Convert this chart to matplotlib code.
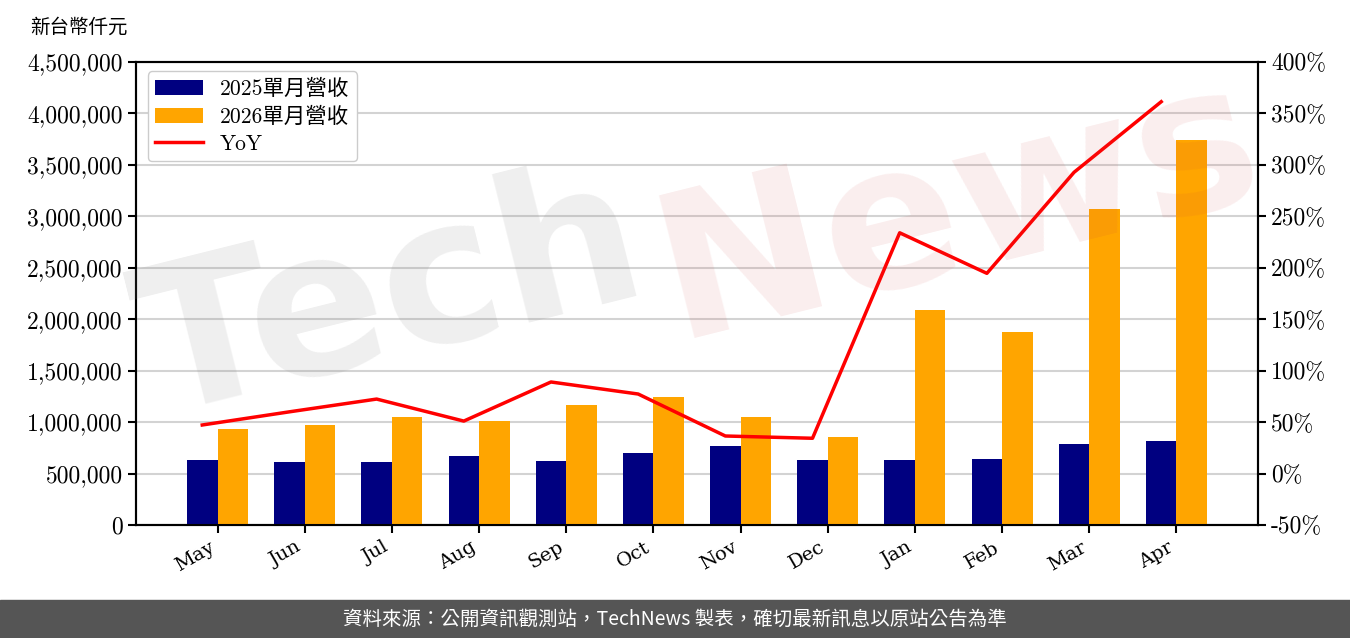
import matplotlib
matplotlib.use("Agg")
import matplotlib.pyplot as plt
import numpy as np
from matplotlib.ticker import FuncFormatter, MultipleLocator

months = ["May", "Jun", "Jul", "Aug", "Sep", "Oct", "Nov", "Dec", "Jan", "Feb", "Mar", "Apr"]
rev_2025 = [632000, 612000, 612000, 671000, 622000, 700000, 768000, 632000, 632000, 641000, 787000, 816000]
rev_2026 = [933000, 972000, 1050000, 1011000, 1166000, 1244000, 1050000, 855000, 2089000, 1876000, 3071000, 3741000]
yoy = [47.2, 60.0, 72.4, 51.0, 89.0, 77.3, 36.5, 34.3, 234.0, 194.6, 292.8, 361.4]

label_2025 = "2025單月營收"
label_2026 = "2026單月營收"
label_yoy = "YoY"
unit_label = "新台幣仟元"
footer = "資料來源：公開資訊觀測站，TechNews 製表，確切最新訊息以原站公告為準"

SERIF = ["cmr10", "Noto Sans CJK TC", "DejaVu Serif"]
plt.rcParams["font.family"] = SERIF
plt.rcParams["axes.unicode_minus"] = False

fig = plt.figure(figsize=(13.5, 6.38), dpi=100)
ax = fig.add_axes([136 / 1350, 1 - 525 / 638, (1258 - 136) / 1350, (525 - 62) / 638])
ax2 = ax.twinx()

x = np.arange(len(months))
w = 0.35
b1 = ax.bar(x, rev_2025, width=w, color="#000080", label=label_2025, zorder=3)
b2 = ax.bar(x + w, rev_2026, width=w, color="#FFA500", label=label_2026, zorder=3)
ax.set_ylim(0, 4500000)
ax.yaxis.set_major_locator(MultipleLocator(500000))
ax.yaxis.set_major_formatter(FuncFormatter(lambda v, p: f"{int(v):,}"))
ax.set_xticks(x + w / 2)
ax.set_xticklabels(months, rotation=30, ha="right", family="DejaVu Serif", fontsize=14)
ax.grid(axis="y", color="#d3d3d3", lw=1.5, zorder=0)
ax.set_axisbelow(True)

ln, = ax2.plot(x, yoy, color="red", lw=2.5, label=label_yoy, zorder=4)
ax2.set_ylim(-50, 400)
ax2.yaxis.set_major_locator(MultipleLocator(50))
ax2.yaxis.set_major_formatter(FuncFormatter(lambda v, p: f"{int(round(v))}%"))

for a in (ax, ax2):
    for s in a.spines.values():
        s.set_linewidth(1.5)
    a.tick_params(width=1.5, length=6, labelsize=17)
ax.tick_params(axis="x", labelsize=14)

leg = ax.legend(handles=[b1, b2, ln], loc="upper left", fontsize=15.5,
                bbox_to_anchor=(0.0105, 0.98), borderaxespad=0, framealpha=1,
                edgecolor="#cccccc", handlelength=2.2, borderpad=0.35, labelspacing=0.35)
leg.set_zorder(10)

fig.text(30 / 1350, 1 - 27 / 638, unit_label, fontsize=14, va="center", ha="left",
         family=["Noto Sans CJK TC"])

# watermark
fig.text(0.29, 0.53, "Tech", fontsize=145, rotation=14, color="#808080", alpha=0.13,
         ha="center", va="center", family="DejaVu Sans", fontweight="bold", zorder=20)
fig.text(0.71, 0.67, "News", fontsize=145, rotation=14, color="#d04040", alpha=0.09,
         ha="center", va="center", family="DejaVu Sans", fontweight="bold", zorder=20)

# footer
fig.patches.append(plt.Rectangle((0, 0), 1, 38 / 638, transform=fig.transFigure,
                                 color="#555555", zorder=0))
fig.text(0.5, 19 / 638, footer, color="white", fontsize=14, ha="center", va="center",
         family=["Noto Sans CJK TC"])

fig.savefig("out.png", dpi=100)
